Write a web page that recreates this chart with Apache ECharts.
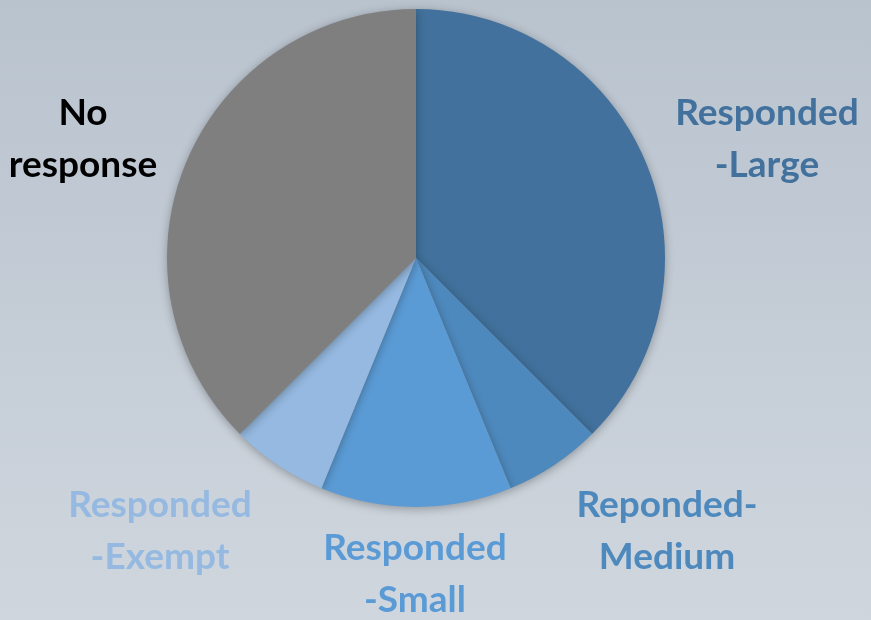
<!DOCTYPE html>
<html>
<head>
<meta charset="utf-8">
<script src="https://cdn.jsdelivr.net/npm/echarts@6/dist/echarts.min.js"></script>
<style>
  html, body { margin: 0; padding: 0; }
  #main { width: 871px; height: 620px; }
</style>
</head>
<body>
<div id="main"></div>
<script>
// slice shares (percent), clockwise from 12 o'clock
const categories = ['Responded\n-Large', 'Reponded-\nMedium', 'Responded\n-Small', 'Responded\n-Exempt', 'No\nresponse'];
const values = [37.5, 6.3, 12.4, 6.3, 37.5];
const colors = ['#41719c', '#4e89bd', '#5b9bd5', '#95b9e0', '#7f7f7f'];
const labelColors = ['#41719c', '#4e89bd', '#5b9bd5', '#95b9e0', '#000000'];

// where each label sits (center of text block)
const labelPos = [[767, 139], [667, 531], [415, 574], [160, 531], [83, 139]];

const chart = echarts.init(document.getElementById('main'));
chart.setOption({
  backgroundColor: {
    type: 'linear', x: 0, y: 0, x2: 0, y2: 1,
    colorStops: [
      { offset: 0, color: '#b9c3ce' },
      { offset: 1, color: '#cfd6de' }
    ]
  },
  animation: false,
  series: [{
    type: 'pie',
    center: [416, 258],
    radius: 249,
    startAngle: 90,
    clockwise: true,
    data: categories.map((name, i) => ({
      name: name,
      value: values[i],
      itemStyle: { color: colors[i] },
      label: { color: labelColors[i] }
    })),
    itemStyle: {
      shadowBlur: 10,
      shadowColor: 'rgba(0,0,0,0.3)',
      shadowOffsetY: 2
    },
    label: {
      show: true,
      position: 'outside',
      formatter: '{b}',
      fontFamily: 'Lato',
      fontWeight: 'bold',
      fontSize: 37,
      lineHeight: 52,
      align: 'center',
      overflow: 'none',
      edgeDistance: 0
    },
    labelLine: { show: false },
    labelLayout: function (params) {
      const p = labelPos[params.dataIndex];
      return { x: p[0], y: p[1], align: 'center', verticalAlign: 'middle' };
    }
  }]
});
</script>
</body>
</html>
